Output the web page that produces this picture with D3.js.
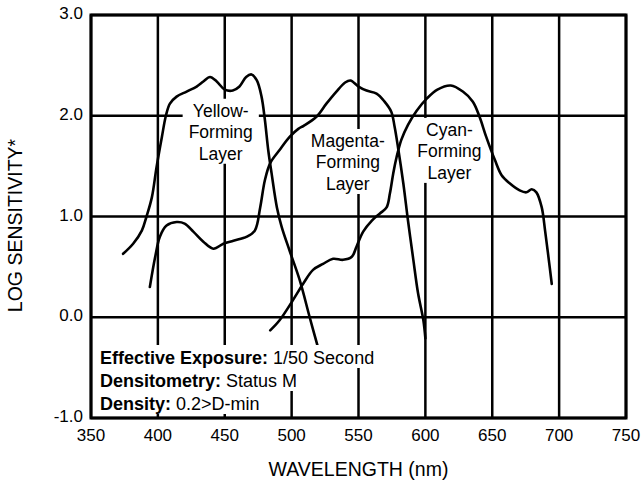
<!DOCTYPE html>
<html>
<head>
<meta charset="utf-8">
<script src="https://d3js.org/d3.v7.min.js"></script>
<style>
  body { margin: 0; background: #fff; }
  text { font-family: "Liberation Sans", Arial, Helvetica, sans-serif; fill: #000; }
</style>
</head>
<body>
<div id="chart"></div>
<script>
// Spectral sensitivity curves: [wavelength nm, log sensitivity]
const yellow = [
  [374, 0.63], [381.5, 0.73], [388, 0.86], [391.5, 1.0], [395.5, 1.19], [399, 1.49],
  [403, 1.79], [406, 2.0], [409, 2.12], [414, 2.19], [421.5, 2.24], [429, 2.29],
  [434, 2.34], [439, 2.385], [444, 2.34], [450, 2.26], [456, 2.25], [461, 2.29],
  [466, 2.385], [470, 2.41], [474, 2.35], [477.5, 2.19], [480, 1.96], [482.5, 1.66],
  [485, 1.43], [489, 1.09], [492.5, 0.90], [498.5, 0.66], [506, 0.37], [513.5, 0.0],
  [519.5, -0.29]
];
const magenta = [
  [394, 0.30], [398, 0.60], [401.5, 0.80], [406.5, 0.91], [414, 0.945], [420, 0.93],
  [426.5, 0.85], [434, 0.75], [441.5, 0.68], [449, 0.73], [456.5, 0.76], [466.5, 0.80],
  [472.5, 0.86], [476.5, 1.09], [480, 1.36], [484, 1.53], [491, 1.66], [498.5, 1.79],
  [505, 1.87], [509, 1.90], [518.5, 1.99], [526, 2.12], [533.5, 2.24], [540, 2.33],
  [544, 2.35], [550, 2.29], [556, 2.25], [563.5, 2.22], [569.5, 2.14], [574.5, 2.04],
  [577, 1.89], [579.5, 1.69], [583.5, 1.33], [587, 0.96], [591, 0.57], [594.5, 0.24],
  [598.5, -0.03], [600, -0.21]
];
const cyan = [
  [484, -0.13], [491, -0.03], [501, 0.17], [508.5, 0.33], [516, 0.47], [523.5, 0.53],
  [531, 0.58], [538.5, 0.57], [545, 0.60], [548.5, 0.70], [553.5, 0.85], [560, 0.96],
  [566, 1.03], [571, 1.09], [573.5, 1.23], [576, 1.43], [578.5, 1.59], [582, 1.76],
  [587, 1.91], [593.5, 2.05], [601, 2.17], [609, 2.26], [619, 2.30], [628, 2.24],
  [635.5, 2.14], [640.5, 1.99], [645.5, 1.79], [652, 1.56], [657, 1.41], [663, 1.33],
  [670.5, 1.26], [675.5, 1.24], [679.5, 1.27], [683, 1.24], [687, 1.09], [689.5, 0.86],
  [692, 0.60], [694.5, 0.33]
];

const xTicks = [350, 400, 450, 500, 550, 600, 650, 700, 750];
const yTicks = [-1, 0, 1, 2, 3];

// layer labels: anchor wavelength / log sensitivity of first line
const layerLabels = [
  { lines: ["Yellow-", "Forming", "Layer"], wl: 447, val: 1.99 },
  { lines: ["Magenta-", "Forming", "Layer"], wl: 542, val: 1.69 },
  { lines: ["Cyan-", "Forming", "Layer"], wl: 618, val: 1.80 }
];

const notes = [
  ["Effective Exposure:", " 1/50 Second"],
  ["Densitometry:", " Status M"],
  ["Density:", " 0.2>D-min"]
];

const width = 644, height = 486;
const margin = { top: 15, right: 18, bottom: 68, left: 91 };

const svg = d3.select("#chart").append("svg")
  .attr("width", width)
  .attr("height", height);

const x = d3.scaleLinear().domain([350, 750]).range([margin.left, width - margin.right]);
const y = d3.scaleLinear().domain([-1, 3]).range([height - margin.bottom, margin.top]);

const lw = 2.5;

// grid lines
const grid = svg.append("g");
grid.selectAll(".vgrid")
  .data(xTicks)
  .join("line")
  .attr("x1", d => x(d)).attr("x2", d => x(d))
  .attr("y1", y(3)).attr("y2", y(-1))
  .attr("stroke", "#000").attr("stroke-width", lw);
grid.selectAll(".hgrid")
  .data(yTicks)
  .join("line")
  .attr("x1", x(350)).attr("x2", x(750))
  .attr("y1", d => y(d)).attr("y2", d => y(d))
  .attr("stroke", "#000").attr("stroke-width", lw);

// frame
svg.append("rect")
  .attr("x", x(350)).attr("y", y(3))
  .attr("width", x(750) - x(350)).attr("height", y(-1) - y(3))
  .attr("fill", "none").attr("stroke", "#000").attr("stroke-width", 3);

// tick labels
svg.append("g").selectAll("text")
  .data(xTicks)
  .join("text")
  .attr("x", d => x(d))
  .attr("y", y(-1) + 23)
  .attr("text-anchor", "middle")
  .style("font-size", "17px")
  .text(d => d);

svg.append("g").selectAll("text")
  .data(yTicks)
  .join("text")
  .attr("x", x(350) - 8)
  .attr("y", d => y(d) + 4)
  .attr("text-anchor", "end")
  .style("font-size", "17px")
  .text(d => d.toFixed(1));

// axis titles
svg.append("text")
  .attr("x", (x(350) + x(750)) / 2)
  .attr("y", 476)
  .attr("text-anchor", "middle")
  .style("font-size", "19.5px")
  .text("WAVELENGTH (nm)");

svg.append("text")
  .attr("transform", `translate(22,${(y(3) + y(-1)) / 2 + 9}) rotate(-90)`)
  .attr("text-anchor", "middle")
  .style("font-size", "19.5px")
  .text("LOG SENSITIVITY*");

// layer labels with white background
const lineH = 21.5;
layerLabels.forEach(lab => {
  const g = svg.append("g");
  const bg = g.append("rect").attr("fill", "#fff");
  const t = g.append("text")
    .attr("text-anchor", "middle")
    .style("font-size", "17.5px");
  lab.lines.forEach((s, i) => {
    t.append("tspan")
      .attr("x", x(lab.wl))
      .attr("y", y(lab.val) + i * lineH)
      .text(s);
  });
  const b = t.node().getBBox();
  bg.attr("x", b.x - 6).attr("y", b.y - 2)
    .attr("width", b.width + 12).attr("height", b.height + 2);
});

// notes box bottom-left
const noteG = svg.append("g");
const noteX = 100, noteY0 = 364, noteH = 23;
notes.forEach((n, i) => {
  const bg = noteG.append("rect").attr("fill", "#fff");
  const t = noteG.append("text")
    .attr("x", noteX)
    .attr("y", noteY0 + i * noteH)
    .style("font-size", "18px");
  t.append("tspan").style("font-weight", "bold").text(n[0]);
  t.append("tspan").text(n[1]);
  const b = t.node().getBBox();
  bg.attr("x", b.x - 4).attr("y", noteY0 + i * noteH - 19)
    .attr("width", b.width + 6).attr("height", noteH);
});

// curves
const line = d3.line()
  .x(d => x(d[0]))
  .y(d => y(d[1]))
  .curve(d3.curveCatmullRom.alpha(0.5));

[yellow, magenta, cyan].forEach(series => {
  svg.append("path")
    .datum(series)
    .attr("d", line)
    .attr("fill", "none")
    .attr("stroke", "#000")
    .attr("stroke-width", 2.6)
    .attr("stroke-linejoin", "round")
    .attr("stroke-linecap", "round");
});

// keep note text above curves
noteG.raise();
</script>
</body>
</html>
